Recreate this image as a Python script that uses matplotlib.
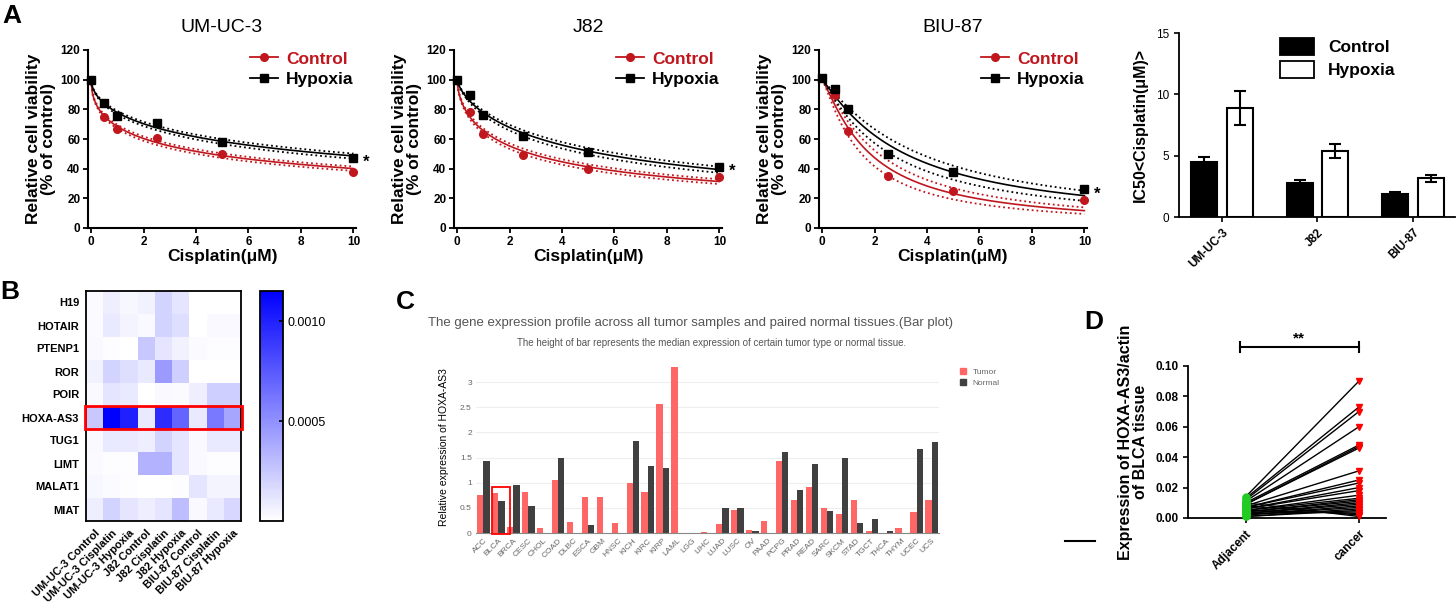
import numpy as np
import matplotlib
matplotlib.use("Agg")
import matplotlib.pyplot as plt
from matplotlib.colors import LinearSegmentedColormap
from matplotlib.patches import Patch, Rectangle
from matplotlib.lines import Line2D

plt.rcParams['font.family'] = ['Liberation Sans', 'DejaVu Sans']

W, H = 1456, 610

# ---------------- data ----------------
dose = [0, 0.5, 1, 2.5, 5, 10]
cell_lines = ['UM-UC-3', 'J82', 'BIU-87']
ctrl_viab = [
    [100, 74.5, 67, 61, 49.8, 37.8],
    [100, 78, 63.5, 49.3, 39.5, 34.6],
    [101, 89.6, 65.2, 34.9, 24.7, 19],
]
hyp_viab = [
    [100, 84, 75.7, 70.5, 58.3, 47.5],
    [100, 89.5, 76, 61.7, 51, 41.4],
    [101.4, 93.5, 80, 49.8, 37.6, 26],
]
ci_factor = [0.12, 0.12, 0.18]

ic50_ctrl = [4.5, 2.75, 1.85]
ic50_ctrl_err = [0.4, 0.25, 0.15]
ic50_hyp = [8.9, 5.4, 3.15]
ic50_hyp_err = [1.4, 0.55, 0.3]

genes = ['H19', 'HOTAIR', 'PTENP1', 'ROR', 'POIR', 'HOXA-AS3', 'TUG1', 'LIMT', 'MALAT1', 'MIAT']
conditions = ['UM-UC-3 Control', 'UM-UC-3 Cisplatin', 'UM-UC-3 Hypoxia',
              'J82 Control', 'J82 Cisplatin', 'J82 Hypoxia',
              'BIU-87 Control', 'BIU-87 Cisplatin', 'BIU-87 Hypoxia']
heat = np.array([
    [0.00002, 0.00008, 0.00004, 0.00006, 0.00020, 0.00012, 0.0, 0.0, 0.0],
    [0.00002, 0.00010, 0.00005, 0.00003, 0.00020, 0.00015, 0.0, 0.00003, 0.00003],
    [0.00003, 0.00001, 0.0, 0.00025, 0.00012, 0.00006, 0.00002, 0.00001, 0.00001],
    [0.00006, 0.00020, 0.00015, 0.00010, 0.00045, 0.00022, 0.0, 0.0, 0.0],
    [0.00003, 0.00012, 0.00010, 0.0, 0.00003, 0.00002, 0.00008, 0.00022, 0.00022],
    [0.00025, 0.00115, 0.00100, 0.00010, 0.00095, 0.00070, 0.00010, 0.00060, 0.00040],
    [0.00003, 0.00010, 0.00010, 0.00008, 0.00020, 0.00012, 0.00003, 0.00010, 0.00010],
    [0.00002, 0.00001, 0.00001, 0.00035, 0.00035, 0.00012, 0.00003, 0.00001, 0.00001],
    [0.00004, 0.00002, 0.00001, 0.0, 0.0, 0.00001, 0.00012, 0.00005, 0.00005],
    [0.00008, 0.00020, 0.00012, 0.00008, 0.00012, 0.00030, 0.00003, 0.00010, 0.00018],
])

tumors = ['ACC', 'BLCA', 'BRCA', 'CESC', 'CHOL', 'COAD', 'DLBC', 'ESCA', 'GBM', 'HNSC',
          'KICH', 'KIRC', 'KIRP', 'LAML', 'LGG', 'LIHC', 'LUAD', 'LUSC', 'OV', 'PAAD',
          'PCPG', 'PRAD', 'READ', 'SARC', 'SKCM', 'STAD', 'TGCT', 'THCA', 'THYM', 'UCEC', 'UCS']
tumor_expr = [0.76, 0.79, 0.11, 0.81, 0.10, 1.05, 0.21, 0.72, 0.72, 0.19,
              0.99, 0.81, 2.57, 3.31, 0.0, 0.01, 0.18, 0.46, 0.065, 0.24,
              1.44, 0.65, 0.91, 0.50, 0.38, 0.66, 0.03, 0.0, 0.09, 0.42, 0.66]
normal_expr = [1.43, 0.63, 0.95, 0.54, 0.0, 1.49, 0.0, 0.16, 0.0, 0.0,
               1.82, 1.34, 1.30, 0.0, 0.0, 0.0, 0.49, 0.50, 0.045, 0.0,
               1.61, 0.855, 1.38, 0.43, 1.50, 0.20, 0.28, 0.04, 0.0, 1.68, 1.80]

adjacent = [0.014, 0.013, 0.012, 0.011, 0.010, 0.009, 0.009, 0.008, 0.007, 0.007,
            0.006, 0.006, 0.005, 0.005, 0.004, 0.004, 0.003, 0.003, 0.002, 0.002,
            0.001, 0.001, 0.003, 0.005, 0.008, 0.010]
cancer = [0.090, 0.073, 0.070, 0.060, 0.048, 0.047, 0.046, 0.031, 0.025, 0.023,
          0.020, 0.018, 0.015, 0.013, 0.012, 0.011, 0.010, 0.009, 0.008, 0.007,
          0.006, 0.005, 0.004, 0.003, 0.002, 0.001]

RED = '#C0171E'


def px(l, t, r, b):
    return [l / W, 1 - b / H, (r - l) / W, (b - t) / H]


def fit_loglogistic(x, y):
    # grid search for 100/(1+(x/ic50)^h)
    x = np.asarray(x, float)
    y = np.asarray(y, float)
    ic = np.linspace(0.3, 20, 400)[:, None, None]
    h = np.linspace(0.3, 3, 271)[None, :, None]
    pred = 100 / (1 + (x[None, None, :] / ic) ** h)
    err = ((pred - y[None, None, :]) ** 2).sum(axis=2)
    i, j = np.unravel_index(np.argmin(err), err.shape)
    return ic[i, 0, 0], h[0, j, 0]


def curve(xx, ic, h):
    return 100 / (1 + (xx / ic) ** h)


fig = plt.figure(figsize=(W / 100, H / 100), dpi=100)

# ---------------- panel A: dose response ----------------
a_boxes = [(88, 50, 356, 228), (454, 50, 722, 228), (819, 50, 1087, 228)]
xx = np.linspace(0, 10, 300)
for k, name in enumerate(cell_lines):
    ax = fig.add_axes(px(*a_boxes[k]))
    for vals, col, mk in [(ctrl_viab[k], RED, 'o'), (hyp_viab[k], 'black', 's')]:
        ic, h = fit_loglogistic(dose, vals)
        ax.plot(xx, curve(xx, ic, h), color=col, lw=1.2)
        f = ci_factor[k]
        ax.plot(xx, curve(xx, ic * (1 - f), h), color=col, lw=1.3, ls=':')
        ax.plot(xx, curve(xx, ic * (1 + f), h), color=col, lw=1.3, ls=':')
        ax.plot(dose, vals, ls='none', marker=mk, color=col, ms=5.5, clip_on=False, zorder=5)
    ax.text(10.35, hyp_viab[k][-1] - 3, '*', fontsize=12, fontweight='bold', va='center')
    ax.set_xlim(-0.12, 10.1)
    ax.set_ylim(0, 120)
    ax.set_xticks([0, 2, 4, 6, 8, 10])
    ax.set_yticks(range(0, 121, 20))
    for s in ['top', 'right']:
        ax.spines[s].set_visible(False)
    for s in ['left', 'bottom']:
        ax.spines[s].set_linewidth(1.5)
    ax.tick_params(width=1.3, length=3.5, labelsize=8.5, pad=2)
    for lb in ax.get_xticklabels() + ax.get_yticklabels():
        lb.set_fontweight('bold')
    ax.set_xlabel('Cisplatin(μM)', fontsize=12.5, fontweight='bold', labelpad=1)
    ax.set_ylabel('Relative cell viability\n(% of control)', fontsize=12.5,
                  fontweight='bold', labelpad=3, linespacing=1.0)
    ax.set_title(name, fontsize=14, pad=13)
    handles = [Line2D([], [], color=RED, marker='o', ms=5.5, lw=1.3),
               Line2D([], [], color='black', marker='s', ms=5.5, lw=1.3)]
    leg = ax.legend(handles, ['Control', 'Hypoxia'], loc='upper right',
                    bbox_to_anchor=(1.05, 1.08), frameon=False, handlelength=1.6,
                    handletextpad=0.5, labelspacing=0.3, prop={'weight': 'bold', 'size': 12.5})
    leg.get_texts()[0].set_color(RED)

# ---------------- panel A: IC50 bars ----------------
ax = fig.add_axes(px(1179, 33, 1455, 217))
pos = np.arange(len(cell_lines))
ax.bar(pos - 0.185, ic50_ctrl, width=0.27, color='black', edgecolor='black', lw=1.5,
       yerr=ic50_ctrl_err, error_kw=dict(capsize=4, elinewidth=1.5, capthick=1.5))
ax.bar(pos + 0.185, ic50_hyp, width=0.27, color='white', edgecolor='black', lw=1.5,
       yerr=ic50_hyp_err, error_kw=dict(capsize=4, elinewidth=1.5, capthick=1.5))
ax.set_xlim(-0.45, 2.44)
ax.set_ylim(0, 15)
ax.set_yticks([0, 5, 10, 15])
ax.set_xticks(pos)
ax.set_xticklabels(cell_lines, rotation=45, ha='right', rotation_mode='anchor',
                   fontweight='bold', fontsize=8.5)
for s in ['top', 'right']:
    ax.spines[s].set_visible(False)
for s in ['left', 'bottom']:
    ax.spines[s].set_linewidth(1.3)
ax.tick_params(width=1.2, length=3.5, labelsize=8.5)
ax.set_ylabel('IC50<Cisplatin(μM)>', fontsize=11.5, fontweight='bold', labelpad=6)
ax.legend([Patch(facecolor='black', edgecolor='black', lw=1.3),
           Patch(facecolor='white', edgecolor='black', lw=1.3)],
          ['Control', 'Hypoxia'], loc='upper left', bbox_to_anchor=(1264 / W, 1 - 22 / H),
          bbox_transform=fig.transFigure, frameon=False, handlelength=2.0, handleheight=1.2,
          labelspacing=0.3, prop={'weight': 'bold', 'size': 12.5})

# ---------------- panel B: heatmap ----------------
ax = fig.add_axes(px(86, 291, 241, 521))
cmap = LinearSegmentedColormap.from_list('wb', ['#FFFFFF', '#0000FF'])
im = ax.imshow(heat, cmap=cmap, vmin=0, vmax=0.00115, aspect='auto')
ax.set_yticks(range(len(genes)))
ax.set_yticklabels(genes, fontweight='bold', fontsize=8)
ax.set_xticks(range(len(conditions)))
ax.set_xticklabels(conditions, rotation=45, ha='right', rotation_mode='anchor',
                   fontweight='bold', fontsize=8)
ax.tick_params(length=0, pad=5)
for s in ax.spines.values():
    s.set_linewidth(1.3)
ax.add_patch(Rectangle((-0.58, 4.5), len(conditions) + 0.16, 1, fill=False,
                       edgecolor='#FF0000', lw=2, clip_on=False, zorder=5))
cax = fig.add_axes(px(260, 291, 283, 521))
cb = fig.colorbar(im, cax=cax, ticks=[0.0005, 0.0010])
cb.ax.set_yticklabels(['0.0005', '0.0010'])
cb.ax.tick_params(labelsize=9, length=3, direction='in', width=1.2)
cb.outline.set_linewidth(1.3)

# ---------------- panel C: TCGA bar plot ----------------
ax = fig.add_axes(px(476, 362, 939, 533))
xt = np.arange(len(tumors))
ax.bar(xt - 0.21, tumor_expr, width=0.42, color='#FF6666')
ax.bar(xt + 0.21, normal_expr, width=0.42, color='#404040')
ax.set_xlim(-0.5, len(tumors) - 0.5)
ax.set_ylim(0, 3.4)
ax.set_yticks([0, 0.5, 1, 1.5, 2, 2.5, 3])
ax.set_yticklabels(['0', '0.5', '1', '1.5', '2', '2.5', '3'])
ax.set_xticks(xt)
ax.set_xticklabels(tumors, rotation=45, ha='right', rotation_mode='anchor')
ax.tick_params(length=0, labelsize=6, colors='#666666', pad=3)
ax.grid(axis='y', color='#EEEEEE', lw=0.8)
ax.set_axisbelow(True)
for s in ['top', 'right', 'left']:
    ax.spines[s].set_visible(False)
ax.spines['bottom'].set_color('#888888')
ax.set_ylabel('Relative expression of HOXA-AS3', fontsize=7.5, labelpad=8)
ax.add_patch(Rectangle((0.55, -0.02), 1.2, 0.93, fill=False, edgecolor='#FF0000',
                       lw=1.3, clip_on=False, zorder=5))
ax.legend([Patch(color='#FF6666'), Patch(color='#404040')], ['Tumor', 'Normal'],
          loc='upper left', bbox_to_anchor=(952 / W, 1 - 360 / H), bbox_transform=fig.transFigure,
          frameon=False, fontsize=6, labelcolor='#666666', handlelength=0.8, handleheight=0.8,
          labelspacing=0.4)
fig.text(690 / W, 1 - 323 / H,
         'The gene expression profile across all tumor samples and paired normal tissues.(Bar plot)',
         ha='center', va='center', fontsize=9.5, color='#555555')
fig.text(712 / W, 1 - 343 / H,
         'The height of bar represents the median expression of certain tumor type or normal tissue.',
         ha='center', va='center', fontsize=7, color='#555555')

# ---------------- panel D: paired plot ----------------
ax = fig.add_axes(px(1188, 366, 1386, 518))
for a, c in zip(adjacent, cancer):
    ax.plot([0, 1], [a, c], color='black', lw=1, zorder=2)
ax.plot([0] * len(adjacent), adjacent, ls='none', marker='o', color='#22CC22', ms=5,
        zorder=3, clip_on=False)
ax.plot([1] * len(cancer), cancer, ls='none', marker='v', color='#FF0000', ms=5,
        zorder=3, clip_on=False)
ax.set_xlim(-0.51, 1.24)
ax.set_ylim(0, 0.10)
ax.set_yticks([0, 0.02, 0.04, 0.06, 0.08, 0.10])
ax.set_yticklabels(['0.00', '0.02', '0.04', '0.06', '0.08', '0.10'])
ax.set_xticks([0, 1])
ax.set_xticklabels(['Adjacent', 'cancer'], rotation=45, ha='right', rotation_mode='anchor')
for s in ['top', 'right']:
    ax.spines[s].set_visible(False)
for s in ['left', 'bottom']:
    ax.spines[s].set_linewidth(1.3)
ax.tick_params(width=1.2, length=3.5, labelsize=8.5)
for lb in ax.get_xticklabels() + ax.get_yticklabels():
    lb.set_fontweight('bold')
ax.set_ylabel('Expression of HOXA-AS3/actin\nof BLCA tissue', fontsize=11.5,
              fontweight='bold', labelpad=5, linespacing=1.0)
ax.plot([-0.05, 1.0], [0.1125, 0.1125], color='black', lw=1.5, clip_on=False)
ax.plot([-0.05, -0.05], [0.109, 0.116], color='black', lw=1.5, clip_on=False)
ax.plot([1.0, 1.0], [0.109, 0.116], color='black', lw=1.5, clip_on=False)
ax.text(0.475, 0.1135, '**', ha='center', va='bottom', fontsize=11, fontweight='bold')

# stray short line left of panel D
fig.add_artist(Line2D([1065 / W, 1095 / W], [1 - 541 / H, 1 - 541 / H], color='black', lw=1.5))

# panel letters
for lab, x, y in [('A', 2, 16), ('B', 0, 292), ('C', 396, 302), ('D', 1084, 322)]:
    fig.text(x / W, 1 - y / H, lab, fontsize=19, fontweight='bold', va='center', ha='left')

fig.savefig('out.png', dpi=100)
